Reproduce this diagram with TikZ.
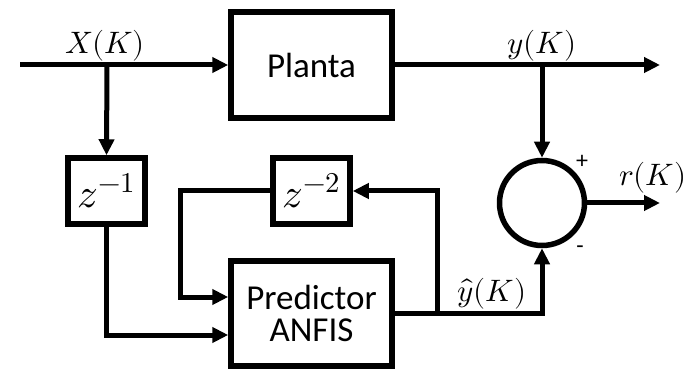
\documentclass[tikz,border=0pt]{standalone}
\usepackage{unicode-math}
\setmainfont{Carlito}
\setmathfont{Latin Modern Math}
\usetikzlibrary{arrows.meta}
\begin{document}
\begin{tikzpicture}[x=1pt,y=-1pt,
  wire/.style={line width=5pt},
  arr/.style={wire,-{Triangle[length=16pt,width=15pt]}},
  blockbox/.style={draw,line width=5.5pt,minimum width=161pt,minimum height=106pt,inner sep=0pt,
    font=\fontsize{35}{35}\selectfont,align=center},
  delaybox/.style={draw,line width=5.5pt,minimum width=77pt,minimum height=66pt,inner sep=0pt,
    font=\fontsize{41}{41}\selectfont},
  sumnode/.style={draw,circle,line width=5.5pt,minimum size=85pt,inner sep=0pt},
  mlabel/.style={font=\fontsize{31}{31}\selectfont,inner sep=0pt},
  sign/.style={font=\fontsize{24}{24}\selectfont,inner sep=0pt}]
\useasboundingbox (0,0) rectangle (695,371);
\node[blockbox] (planta) at (311.5,65) {Planta};
\node[blockbox,minimum height=105pt] (pred) at (311.5,313.5) {Predictor\\[-3pt]ANFIS};
\node[delaybox] (z1) at (106.5,191) {$z^{-1}$};
\node[delaybox] (z2) at (311.5,191) {$z^{-2}$};
\node[sumnode] (sum) at (542,203) {};
\coordinate (in) at (20,65);
\coordinate (b0) at (107,65);
\coordinate (b1) at (542,65);
\coordinate (yout) at (660,65);
\coordinate (rout) at (660,203);
\coordinate (b2) at (437,313.5);
\draw[arr] (in) -- (planta.west);
\draw[arr] (b0) -- (z1.north);
\draw[arr] (planta.east) -- (yout);
\draw[arr] (b1) -- (sum.north);
\draw[arr] (sum.east) -- (rout);
\draw[arr] (z1.south) |- ([yshift=-21.5pt]pred.west);
\draw[arr] (z2.west) -- ++(-90,0) |- ([yshift=16.5pt]pred.west);
\draw[arr] (pred.east) -| (sum.south);
\draw[arr] (b2) |- (z2.east);
\node[mlabel] (lx) at (105,46) {$X(K)$};
\node[mlabel] (ly) at (542,46) {$y(K)$};
\node[mlabel] (lr) at (653,178) {$r(K)$};
\node[mlabel] (lyh) at (492,294) {$\hat{y}(K)$};
\node[sign] (plus) at (582,162) {+};
\node[sign] (minus) at (580,250) {-};
\end{tikzpicture}
\end{document}
